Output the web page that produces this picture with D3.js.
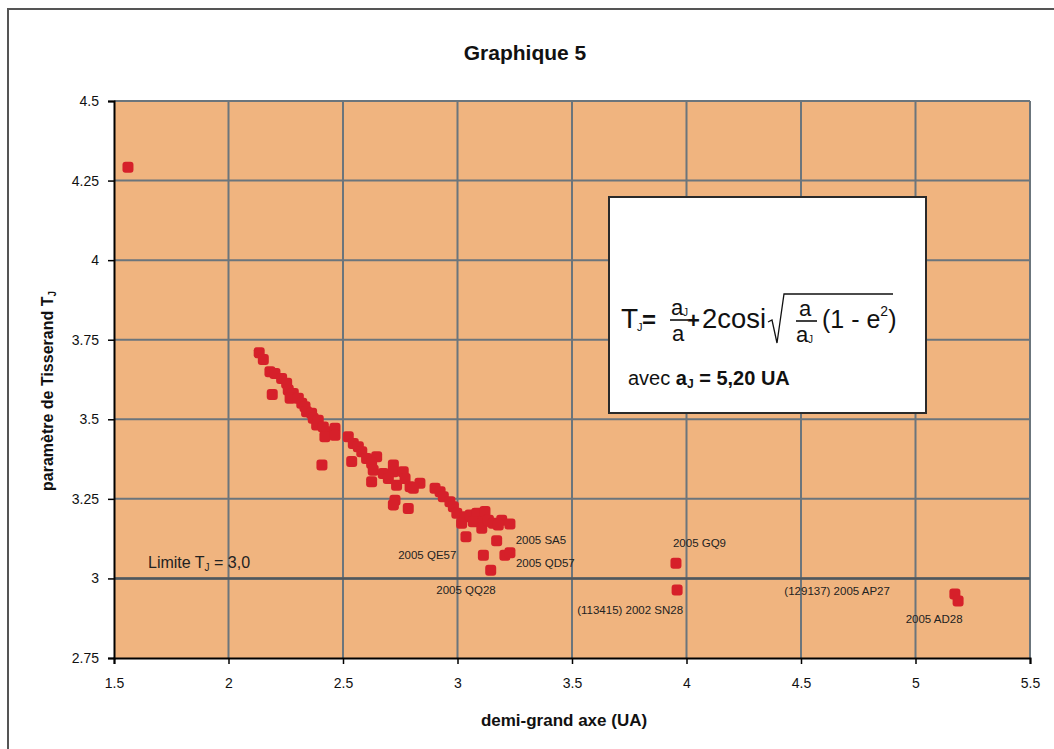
<!DOCTYPE html>
<html><head><meta charset="utf-8">
<script src="https://cdn.jsdelivr.net/npm/d3@7"></script>
<style>body{margin:0;background:#fff;}svg{display:block;font-family:"Liberation Sans",Arial,sans-serif;}</style>
</head><body>
<svg id="c" width="1054" height="749"></svg>
<script>
// semi-major axis (UA)
const axisA = [1.561,2.134,2.152,2.181,2.203,2.191,2.232,2.254,2.261,2.283,2.269,2.305,2.320,2.334,2.341,2.363,2.370,2.392,2.385,2.414,2.429,2.465,2.421,2.465,2.523,2.545,2.408,2.567,2.582,2.538,2.603,2.647,2.625,2.632,2.625,2.676,2.720,2.720,2.698,2.763,2.771,2.734,2.727,2.720,2.785,2.793,2.836,2.807,2.902,2.924,2.938,2.967,2.982,2.997,3.033,3.018,3.055,3.084,3.120,3.069,3.113,3.106,3.135,3.156,3.193,3.178,3.229,3.037,3.171,3.113,3.207,3.229,3.145,3.954,3.959,5.172,5.186];
// Tisserand parameter T_J
const tisserand = [4.292,3.709,3.688,3.649,3.644,3.578,3.628,3.613,3.592,3.581,3.566,3.566,3.550,3.539,3.524,3.519,3.503,3.497,3.482,3.476,3.461,3.472,3.445,3.450,3.445,3.424,3.356,3.414,3.398,3.367,3.377,3.382,3.362,3.340,3.304,3.330,3.356,3.335,3.314,3.335,3.314,3.293,3.246,3.231,3.220,3.288,3.299,3.283,3.283,3.272,3.257,3.241,3.225,3.205,3.194,3.173,3.199,3.205,3.210,3.178,3.178,3.158,3.183,3.173,3.183,3.168,3.171,3.131,3.118,3.073,3.073,3.081,3.026,3.048,2.964,2.951,2.929];
// named objects
const nameLabels = ["2005 SA5","2005 QE57","2005 QD57","2005 QQ28","2005 GQ9","(113415) 2002 SN28","(129137) 2005 AP27","2005 AD28"];
const nameA = [3.171,3.113,3.229,3.145,3.954,3.959,5.172,5.186];
const nameT = [3.118,3.073,3.081,3.026,3.048,2.964,2.951,2.929];
const xTicks = [1.5,2,2.5,3,3.5,4,4.5,5,5.5];
const yTicks = [2.75,3,3.25,3.5,3.75,4,4.25,4.5];
const limitT = 3.0;

const svg = d3.select("#c");
const L=114, R=1030, T=101, B=658;
const x = d3.scaleLinear().domain([1.5,5.5]).range([L,R]);
const y = d3.scaleLinear().domain([2.75,4.5]).range([B,T]);

// outer frame
svg.append("rect").attr("x",8).attr("y",9).attr("width",1100).attr("height",800)
  .attr("fill","none").attr("stroke","#555").attr("stroke-width",2);

// title
svg.append("text").attr("x",525).attr("y",60).attr("text-anchor","middle")
  .attr("font-size",21).attr("font-weight","bold").attr("fill","#111").text("Graphique 5");

// plot background
svg.append("rect").attr("x",L).attr("y",T).attr("width",R-L).attr("height",B-T).attr("fill","#F0B47F");

// grid
const gridC="#6b757c";
svg.append("g").selectAll("line").data(xTicks.slice(1)).join("line")
  .attr("x1",d=>x(d)).attr("x2",d=>x(d)).attr("y1",T).attr("y2",B)
  .attr("stroke",gridC).attr("stroke-width",2);
svg.append("g").selectAll("line").data(yTicks.slice(1)).join("line")
  .attr("x1",L).attr("x2",R).attr("y1",d=>y(d)).attr("y2",d=>y(d))
  .attr("stroke",gridC).attr("stroke-width",2);

// limit line
svg.append("line").attr("x1",L).attr("x2",R).attr("y1",y(limitT)).attr("y2",y(limitT))
  .attr("stroke","#4f575d").attr("stroke-width",2.6);

// axes
const xAxis = d3.axisBottom(x).tickValues(xTicks).tickFormat(d3.format("")).tickSize(6).tickPadding(14);
const gx = svg.append("g").attr("transform",`translate(0,${B})`).call(xAxis);
gx.select(".domain").attr("stroke","#000").attr("stroke-width",2);
gx.selectAll(".tick line").attr("stroke","#000").attr("stroke-width",1.5);
gx.selectAll(".tick text").attr("font-size",14).attr("fill","#111").attr("font-family","Liberation Sans, Arial, sans-serif");

const yAxis = d3.axisLeft(y).tickValues(yTicks).tickFormat(d3.format("")).tickSize(6).tickPadding(9);
const gy = svg.append("g").attr("transform",`translate(${L},0)`).call(yAxis);
gy.select(".domain").attr("stroke","#000").attr("stroke-width",2);
gy.selectAll(".tick line").attr("stroke","#000").attr("stroke-width",1.5);
gy.selectAll(".tick text").attr("font-size",14).attr("fill","#111").attr("font-family","Liberation Sans, Arial, sans-serif");

// axis titles
svg.append("text").attr("x",(L+R)/2-8).attr("y",726).attr("text-anchor","middle")
  .attr("font-size",17).attr("font-weight","bold").attr("fill","#111").text("demi-grand axe (UA)");
const yl = svg.append("text").attr("transform","translate(53,391) rotate(-90)").attr("text-anchor","middle")
  .attr("font-size",16).attr("font-weight","bold").attr("fill","#111");
yl.append("tspan").text("paramètre de Tisserand  T");
yl.append("tspan").attr("font-size",10).attr("dy",3).text("J");

// points
const pts = axisA.map((a,i)=>({a, t:tisserand[i]}));
svg.append("g").selectAll("rect").data(pts).join("rect")
  .attr("x",d=>x(d.a)-5.5).attr("y",d=>y(d.t)-5.5).attr("width",11).attr("height",11)
  .attr("rx",3).attr("fill","#D6202A");

// name labels (offsets relative to each point)
const offs = [[19,-1,"start"],[-27,0,"end"],[6,10,"start"],[5,20,"end"],[-3,-20,"start"],[6,20,"end"],[-65,-3,"end"],[-24,18,"middle"]];
svg.append("g").selectAll("text").data(nameLabels).join("text")
  .attr("x",(d,i)=>x(nameA[i])+offs[i][0]).attr("y",(d,i)=>y(nameT[i])+offs[i][1]+4)
  .attr("text-anchor",(d,i)=>offs[i][2]).attr("font-size",11.5).attr("fill","#222").text(d=>d);

// limit label
const lt = svg.append("text").attr("x",148).attr("y",y(limitT)-10).attr("font-size",16).attr("fill","#222");
lt.append("tspan").text("Limite T");
lt.append("tspan").attr("font-size",10).attr("dy",3).text("J");
lt.append("tspan").attr("dy",-3).text(" = 3,0");

// formula box
const bx=609, by=197;
const g = svg.append("g").attr("transform",`translate(${bx},${by})`);
g.append("rect").attr("width",317).attr("height",216).attr("fill","#fff").attr("stroke","#2a2a2a").attr("stroke-width",2);
const F = (xx,yy,s,txt,w)=>g.append("text").attr("x",xx).attr("y",yy).attr("font-size",s).attr("font-weight",w||"normal").attr("fill","#111").text(txt);
F(12,131,28,"T");
F(28,134,11,"J");
F(33,131,24,"=","bold");
F(62,118,22,"a");
F(74,119,10,"J");
g.append("line").attr("x1",61).attr("x2",79).attr("y1",123).attr("y2",123).attr("stroke","#111").attr("stroke-width",1.6);
F(63,144,22,"a");
F(78,131,22,"+","bold");
F(93,131,28,"2cosi").attr("textLength",64).attr("lengthAdjust","spacingAndGlyphs");
g.append("path").attr("d","M159,125 L163,123 L168,146 L175,97 L284,97").attr("fill","none").attr("stroke","#111").attr("stroke-width",1.3);
F(190,119,22,"a");
g.append("line").attr("x1",187).attr("x2",208).attr("y1",124).attr("y2",124).attr("stroke","#111").attr("stroke-width",1.6);
F(187,145,22,"a");
F(199,146,10,"J");
const par = F(213,131,25,"(1 - e");
par.append("tspan").attr("font-size",14).attr("dy",-12).text("2");
par.append("tspan").attr("dy",12).text(")");
const av = g.append("text").attr("x",19).attr("y",188).attr("font-size",20).attr("fill","#111");
av.append("tspan").text("avec ");
av.append("tspan").attr("font-weight","bold").text("a");
av.append("tspan").attr("font-weight","bold").attr("font-size",12).attr("dy",3).text("J");
av.append("tspan").attr("font-weight","bold").attr("dy",-3).text(" = 5,20 UA");
</script>
</body></html>
